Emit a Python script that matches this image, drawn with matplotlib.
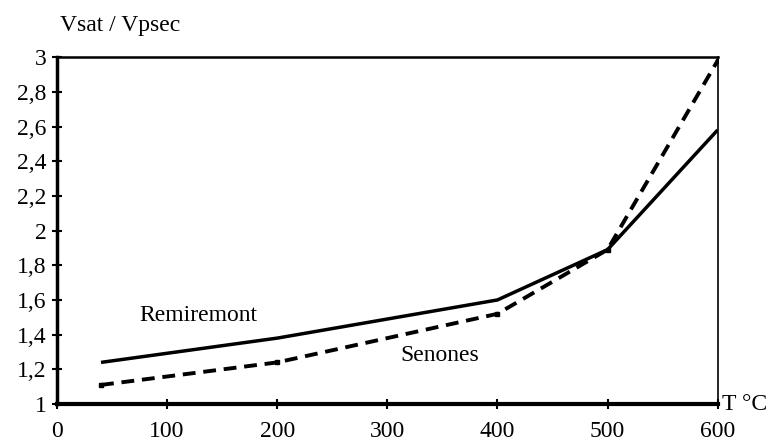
import matplotlib.pyplot as plt

plt.rcParams['font.family'] = ['Liberation Serif', 'DejaVu Serif']

temps = [40, 200, 400, 500, 600]
remiremont = [1.24, 1.38, 1.60, 1.89, 2.58]
senones = [1.11, 1.24, 1.52, 1.89, 2.98]

x_ticks = [0, 100, 200, 300, 400, 500, 600]
y_ticks = [1, 1.2, 1.4, 1.6, 1.8, 2, 2.2, 2.4, 2.6, 2.8, 3]
y_labels = ["1", "1,2", "1,4", "1,6", "1,8", "2", "2,2", "2,4", "2,6", "2,8", "3"]

fig = plt.figure(figsize=(7.7, 4.43), dpi=100)
ax = fig.add_axes([0.074, 0.088, 0.858, 0.783])

ax.plot(temps, remiremont, color='black', lw=2.5, solid_capstyle='butt')
ax.plot(temps, senones, color='black', lw=2.8, ls=(0, (3.3, 2.0)),
        marker='s', ms=3.5)

ax.set_xlim(0, 600)
ax.set_ylim(1, 3)
ax.set_xticks(x_ticks)
ax.set_yticks(y_ticks)
ax.set_yticklabels(y_labels)
ax.tick_params(direction='inout', length=7, width=1.5, labelsize=17, color='black')
ax.tick_params(axis='x', pad=9)
ax.tick_params(axis='y', pad=4)

ax.spines['left'].set_linewidth(2.5)
ax.spines['bottom'].set_linewidth(3)
ax.spines['top'].set_linewidth(1.8)
ax.spines['right'].set_linewidth(1.2)

ax.text(128, 1.51, "Remiremont", fontsize=17, ha='center', va='center')
ax.text(348, 1.28, "Senones", fontsize=17, ha='center', va='center')
ax.text(604, 1.0, "T °C", fontsize=17, ha='left', va='center', clip_on=False)
fig.text(60 / 770, 1 - 25 / 443, "Vsat / Vpsec", fontsize=17, ha='left', va='center')

fig.savefig("out.png", dpi=100)
